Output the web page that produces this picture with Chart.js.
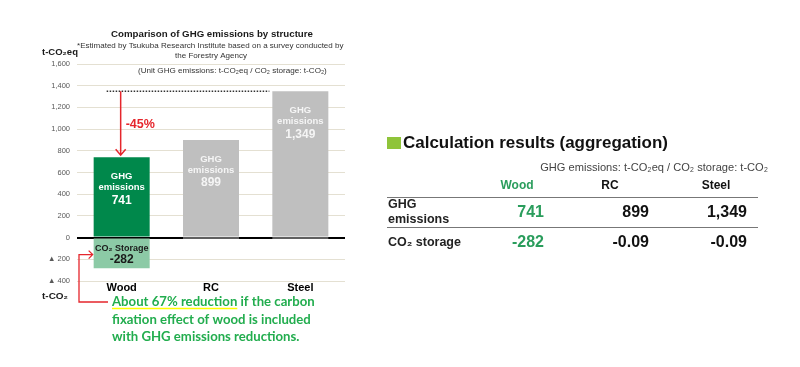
<!DOCTYPE html>
<html>
<head>
<meta charset="utf-8">
<script src="https://cdn.jsdelivr.net/npm/chart.js@4"></script>
<style>
html,body{margin:0;padding:0;background:#fff;}
#wrap{position:relative;width:800px;height:367px;overflow:hidden;}
canvas{display:block;}
</style>
</head>
<body>
<div id="wrap"><canvas id="c" width="800" height="367"></canvas></div>
<script>
// ---- data ----
const categories = ['Wood', 'RC', 'Steel'];
const ghgEmissions = [741, 899, 1349];
const co2Storage = [-282, -0.09, -0.09];
const tableGhg = ['741', '899', '1,349'];
const tableStorage = ['-282', '-0.09', '-0.09'];
const yMin = -400, yMax = 1600, yStep = 200;
const reductionLabel = '-45%';
const chartTitle = 'Comparison of GHG emissions by structure';
const subtitleLines = ['*Estimated by Tsukuba Research Institute based on a survey conducted by', 'the Forestry Agency'];
const unitNote = '(Unit GHG emissions: t-CO\u2082eq / CO\u2082 storage: t-CO\u2082)';
const noteLines = ['About 67% reduction if the carbon', 'fixation effect of wood is included', 'with GHG emissions reductions.'];
const panelTitle = 'Calculation results (aggregation)';
const panelUnit = 'GHG emissions: t-CO\u2082eq / CO\u2082 storage: t-CO\u2082';

const GREEN = '#00884b', LIGHTGREEN = '#8ccaa6', GRAY = '#bfbfbf', RED = '#e5262c';
const NOTEGREEN = '#22ad4e', TABLEGREEN = '#2a9d5c';
const SANS = '"Liberation Sans", Arial, sans-serif';

function fitSize(ctx, text, weight, family, w) {
  ctx.font = weight + ' 100px ' + family;
  return 100 * w / ctx.measureText(text).width;
}
function txt(ctx, s, x, y, o) {
  const fam = o.family || SANS, wt = o.weight || 'normal';
  let size = o.size;
  if (o.fitW) size = fitSize(ctx, s, wt, fam, o.fitW);
  ctx.font = wt + ' ' + size + 'px ' + fam;
  ctx.fillStyle = o.color || '#000';
  ctx.textAlign = o.align || 'left';
  ctx.textBaseline = 'middle';
  ctx.fillText(s, x, y);
  return size;
}

const overlay = {
  id: 'overlay',
  afterDatasetsDraw(chart) {
    const ctx = chart.ctx;
    const ys = chart.scales.y;
    const m0 = chart.getDatasetMeta(0), m1 = chart.getDatasetMeta(1);
    ctx.save();
    // bar labels
    m0.data.forEach((bar, i) => {
      const col = i === 0 ? '#ffffff' : '#f5f5f5';
      const top = bar.y;
      txt(ctx, 'GHG', bar.x, top + 19, {size: 9.5, weight: 'bold', color: col, align: 'center'});
      txt(ctx, 'emissions', bar.x, top + 30.5, {size: 9.5, weight: 'bold', color: col, align: 'center'});
      txt(ctx, ghgEmissions[i].toLocaleString('en-US'), bar.x, top + 43, {size: 12, weight: 'bold', color: col, align: 'center'});
    });
    // storage label
    const sb = m1.data[0];
    txt(ctx, 'CO\u2082 Storage', sb.x, sb.base + 9.5, {size: 9, weight: 'bold', color: '#1a1a1a', align: 'center'});
    txt(ctx, String(co2Storage[0]), sb.x, sb.base + 21, {size: 12, weight: 'bold', color: '#1a1a1a', align: 'center'});

    // dotted reference line at steel level
    const b0 = m0.data[0], b2 = m0.data[2];
    const yRef = ys.getPixelForValue(ghgEmissions[2]);
    ctx.strokeStyle = '#333';
    ctx.lineWidth = 1.5;
    ctx.setLineDash([1.5, 1.5]);
    ctx.beginPath();
    ctx.moveTo(b0.x - 15, yRef);
    ctx.lineTo(b2.x - b2.width / 2 - 3, yRef);
    ctx.stroke();
    ctx.setLineDash([]);
    // red arrow
    const ax = b0.x - 1, tip = b0.y - 2;
    ctx.strokeStyle = RED;
    ctx.lineWidth = 1.5;
    ctx.beginPath();
    ctx.moveTo(ax, yRef); ctx.lineTo(ax, tip);
    ctx.moveTo(ax - 5, tip - 6); ctx.lineTo(ax, tip); ctx.lineTo(ax + 5, tip - 6);
    ctx.stroke();
    txt(ctx, reductionLabel, ax + 5, (yRef + tip) / 2 + 1, {size: 12.5, weight: 'bold', color: RED});

    // red bracket to storage bar
    const by = sb.base + 16, bx = 79, barLeft = sb.x - sb.width / 2;
    ctx.lineWidth = 1.3;
    ctx.beginPath();
    ctx.moveTo(barLeft - 1, by); ctx.lineTo(bx, by); ctx.lineTo(bx, 302); ctx.lineTo(108, 302);
    ctx.moveTo(barLeft - 5, by - 4); ctx.lineTo(barLeft - 1, by); ctx.lineTo(barLeft - 5, by + 4);
    ctx.stroke();

    // note text
    const nf = fitSize(ctx, noteLines[0], 'bold', 'Lato', 203);
    noteLines.forEach((l, i) => txt(ctx, l, 112, 302 + i * 17.5, {size: nf, weight: 'bold', family: 'Lato', color: NOTEGREEN}));
    ctx.font = 'bold ' + nf + 'px Lato';
    const ulw = ctx.measureText('About 67% reduction').width;
    ctx.strokeStyle = '#ffff00';
    ctx.lineWidth = 1.5;
    ctx.beginPath(); ctx.moveTo(112, 308.5); ctx.lineTo(112 + ulw, 308.5); ctx.stroke();

    // titles
    txt(ctx, chartTitle, 212, 34, {fitW: 202, weight: 'bold', color: '#1a1a1a', align: 'center'});
    const sf = txt(ctx, subtitleLines[0], 77, 45.5, {fitW: 267, color: '#333'});
    txt(ctx, subtitleLines[1], 211, 56, {size: sf, color: '#333', align: 'center'});
    txt(ctx, unitNote, 138, 71, {fitW: 189, color: '#333'});
    txt(ctx, 't-CO\u2082eq', 42, 52.5, {fitW: 36, weight: 'bold', color: '#1a1a1a'});
    txt(ctx, 't-CO\u2082', 42, 296, {fitW: 26, weight: 'bold', color: '#1a1a1a'});

    // right panel
    ctx.fillStyle = '#8fc43a';
    ctx.fillRect(387, 137, 14, 12);
    txt(ctx, panelTitle, 403, 143, {fitW: 265, weight: 'bold', color: '#111'});
    txt(ctx, panelUnit, 768, 168, {fitW: 228, color: '#444', align: 'right'});
    const hx = [517, 610, 716];
    categories.forEach((c, i) => txt(ctx, c, hx[i], 186, {size: 12, weight: 'bold', color: i === 0 ? TABLEGREEN : '#111', align: 'center'}));
    ctx.strokeStyle = '#777';
    ctx.lineWidth = 1;
    ctx.beginPath();
    ctx.moveTo(387, 197.5); ctx.lineTo(758, 197.5);
    ctx.moveTo(387, 227.5); ctx.lineTo(758, 227.5);
    ctx.stroke();
    txt(ctx, 'GHG', 388, 205, {size: 12.5, weight: 'bold', color: '#222'});
    txt(ctx, 'emissions', 388, 220, {size: 12.5, weight: 'bold', color: '#222'});
    txt(ctx, 'CO\u2082 storage', 388, 243, {size: 12.5, weight: 'bold', color: '#222'});
    const vx = [544, 649, 747];
    tableGhg.forEach((v, i) => txt(ctx, v, vx[i], 212.5, {size: 16, weight: 'bold', color: i === 0 ? TABLEGREEN : '#111', align: 'right'}));
    tableStorage.forEach((v, i) => txt(ctx, v, vx[i], 243, {size: 16, weight: 'bold', color: i === 0 ? TABLEGREEN : '#111', align: 'right'}));
    ctx.restore();
  }
};

new Chart(document.getElementById('c'), {
  type: 'bar',
  data: {
    labels: categories,
    datasets: [
      {label: 'GHG emissions', data: ghgEmissions, backgroundColor: [GREEN, GRAY, GRAY], stack: 's'},
      {label: 'CO\u2082 storage', data: co2Storage, backgroundColor: [LIGHTGREEN, GRAY, GRAY], stack: 's'}
    ]
  },
  options: {
    responsive: false,
    animation: false,
    events: [],
    layout: {padding: {top: 64, right: 455, left: 0, bottom: 0}},
    datasets: {bar: {categoryPercentage: 1, barPercentage: 0.627}},
    plugins: {legend: {display: false}, tooltip: {enabled: false}, title: {display: false}},
    scales: {
      x: {
        stacked: true,
        grid: {display: false, drawTicks: false},
        border: {display: false},
        ticks: {color: '#000', font: {family: SANS, size: 11, weight: 'bold'}, padding: 0},
        afterFit: s => { s.height = 86; }
      },
      y: {
        stacked: true,
        min: yMin, max: yMax,
        ticks: {
          stepSize: yStep,
          color: '#595959',
          font: {family: SANS, size: 7.5},
          padding: 7,
          callback: v => v < 0 ? '\u25B2 ' + Math.abs(v) : Number(v).toLocaleString('en-US')
        },
        grid: {
          drawTicks: false,
          color: c => c.tick && c.tick.value === 0 ? '#000' : '#e4e0d2',
          lineWidth: c => c.tick && c.tick.value === 0 ? 2 : 1
        },
        border: {display: false},
        afterFit: s => { s.width = 77; }
      }
    }
  },
  plugins: [overlay]
});
</script>
</body>
</html>
